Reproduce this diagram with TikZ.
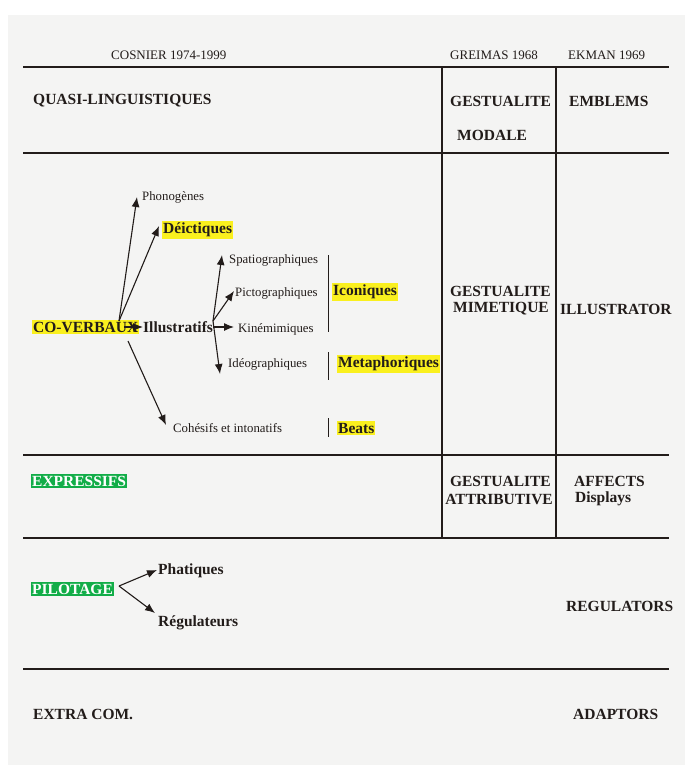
\documentclass[tikz,border=0pt]{standalone}
\usepackage{fontspec}
\setmainfont{Liberation Serif}
\usetikzlibrary{arrows.meta}
\definecolor{hly}{HTML}{FAF01E}
\definecolor{hlg}{HTML}{12AD48}
\definecolor{paper}{HTML}{F4F4F3}
\definecolor{ink}{HTML}{221C1A}
\begin{document}
\begin{tikzpicture}[x=1pt,y=-1pt,
  every node/.style={inner sep=0pt, text=ink},
  hdr/.style={font=\fontsize{13}{15}\selectfont},
  big/.style={font=\bfseries\fontsize{15.5}{17}\selectfont},
  sml/.style={font=\fontsize{12.8}{14}\selectfont},
  hy/.style={fill=hly, inner xsep=1pt, inner ysep=1.5pt},
  hg/.style={fill=hlg, text=white, inner xsep=1pt, inner ysep=1.5pt},
  rule/.style={line width=1.1pt, draw=ink},
  bar/.style={line width=1pt, draw=ink},
  arr/.style={-{Latex[length=10pt,width=8pt]}, line width=1.1pt, draw=ink}]
\useasboundingbox (0,0) rectangle (685,769);
\fill[white] (0,0) rectangle (685,769);
\fill[paper] (8,15) rectangle (685,765);
% table rules
\draw[rule] (23,67) -- (669,67);
\draw[rule] (23,153) -- (669,153);
\draw[rule] (23,455) -- (669,455);
\draw[rule] (23,538) -- (669,538);
\draw[rule] (23,669) -- (669,669);
\draw[rule] (442,67) -- (442,538);
\draw[rule] (556,67) -- (556,538);
% headers
\node[hdr, anchor=west] (cos) at (111,55) {COSNIER 1974-1999};
\node[hdr, anchor=west] (gre) at (450,55) {GREIMAS 1968};
\node[hdr, anchor=west] (ekm) at (568,55) {EKMAN 1969};
% row 1
\node[big, anchor=west] (quasi) at (33,101) {QUASI-LINGUISTIQUES};
\node[big, anchor=west] (gmod1) at (450,101) {GESTUALITE};
\node[big, anchor=west] (gmod2) at (457,135) {MODALE};
\node[big, anchor=west] (embl) at (569,101) {EMBLEMS};
% row 2
\node[big, hy, anchor=west] (cover) at (32,327) {CO-VERBAUX};
\node[big, anchor=west] (illu) at (143,327) {Illustratifs};
\node[sml, anchor=west] (phono) at (142,197) {Phonogènes};
\node[big, hy, anchor=west] (deic) at (162,230) {Déictiques};
\node[sml, anchor=west] (spat) at (229,260) {Spatiographiques};
\node[sml, anchor=west] (pict) at (235,293) {Pictographiques};
\node[sml, anchor=west] (kine) at (238,329) {Kinémimiques};
\node[sml, anchor=west] (ideo) at (228,364) {Idéographiques};
\node[sml, anchor=west] (cohe) at (173,428) {Cohésifs et intonatifs};
\node[big, hy, anchor=west] (icon) at (332,292) {Iconiques};
\node[big, hy, anchor=west] (meta) at (337,364) {Metaphoriques};
\node[big, hy, anchor=west] (beat) at (337,428) {Beats};
\draw[bar] (328,255) -- (328,332);
\draw[bar] (328,352) -- (328,380);
\draw[bar] (328,418) -- (328,437);
\node[big, anchor=east] (gmim1) at (551,291) {GESTUALITE};
\node[big, anchor=east] (gmim2) at (549,309) {MIMETIQUE};
\node[big, anchor=west] (illus) at (560,309) {ILLUSTRATOR};
% arrows co-verbaux
\coordinate (cvj) at (119,321);
\coordinate (cvb) at (128,341);
\coordinate (tphono) at (137,197);
\coordinate (tdeic) at (159,226);
\coordinate (tcohe) at (166,425);
\draw[arr] (cvj) -- (tphono);
\draw[arr] (cvj) -- (tdeic);
\draw[arr] (cvb) -- (tcohe);
\draw[arr] (124,327) -- (illu.west);
% arrows illustratifs
\coordinate (ilj) at (213,321);
\coordinate (tspat) at (222,255);
\coordinate (tpict) at (234,291);
\coordinate (tkine) at (234,327);
\coordinate (tideo) at (220,374);
\draw[arr] (ilj) -- (tspat);
\draw[arr] (ilj) -- (tpict);
\draw[arr] (illu.east) -- (tkine);
\draw[arr] (ilj) -- (tideo);
% row 3
\node[big, hg, anchor=west] (expr) at (31,481) {EXPRESSIFS};
\node[big, anchor=east] (gatt1) at (551,481) {GESTUALITE};
\node[big, anchor=east] (gatt2) at (553,499) {ATTRIBUTIVE};
\node[big, anchor=west] (aff) at (574,481) {AFFECTS};
\node[big, anchor=west] (disp) at (575,499) {Displays};
% row 4
\node[big, hg, anchor=west] (pilo) at (31,589) {PILOTAGE};
\node[big, anchor=west] (phat) at (158,571) {Phatiques};
\node[big, anchor=west] (regu) at (158,623) {Régulateurs};
\node[big, anchor=west] (regs) at (566,606) {REGULATORS};
\coordinate (plj) at (119,586);
\coordinate (tphat) at (157,570);
\coordinate (tregu) at (155,613);
\draw[arr] (plj) -- (tphat);
\draw[arr] (plj) -- (tregu);
% row 5
\node[big, anchor=west] (extra) at (33,714) {EXTRA COM.};
\node[big, anchor=west] (adap) at (573,714) {ADAPTORS};
\end{tikzpicture}
\end{document}
